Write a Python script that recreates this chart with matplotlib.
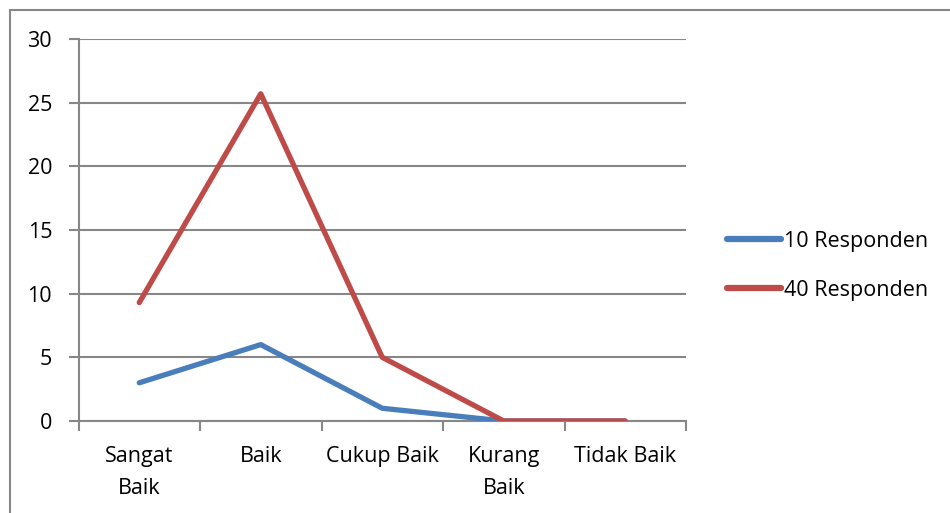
import numpy as np
import matplotlib
matplotlib.use('Agg')
import matplotlib.pyplot as plt
from matplotlib.patches import Rectangle

# Datos del grafico
kategori = ['Sangat\nBaik', 'Baik', 'Cukup Baik', 'Kurang\nBaik', 'Tidak Baik']
resp_10 = [3, 6, 1, 0, 0]
resp_40 = [9.3, 25.7, 5, 0, 0]
yticks = [0, 5, 10, 15, 20, 25, 30]

GRIS = '#878787'
AZUL = '#4A7EBB'
ROJO = '#BE4B48'
FS = 15.5

plt.rcParams['font.family'] = ['Open Sans', 'DejaVu Sans']

fig = plt.figure(figsize=(9.5, 5.13), dpi=100)
# marco exterior del grafico (recortado a la derecha y abajo)
fig.patches.append(Rectangle((10 / 950, -0.1), 1.2, (513 - 10) / 513 + 0.1,
                             transform=fig.transFigure, fill=False,
                             edgecolor=GRIS, linewidth=1.5))

ax = fig.add_axes([78.5 / 950, (513 - 421) / 513, (686 - 78.5) / 950, (421 - 39) / 513])
x = np.arange(len(kategori))
ax.plot(x, resp_10, color=AZUL, linewidth=3.8, solid_capstyle='round',
        label='10 Responden', zorder=3)
ax.plot(x, resp_40, color=ROJO, linewidth=3.8, solid_capstyle='round',
        label='40 Responden', zorder=3)

ax.set_xlim(-0.5, len(kategori) - 0.5)
ax.set_ylim(0, 30)
ax.set_yticks(yticks)
ax.yaxis.grid(True, color=GRIS, linewidth=1.5)
ax.set_axisbelow(True)

# ticks del eje x en los limites de categoria
ax.set_xticks(np.arange(len(kategori) + 1) - 0.5)
ax.set_xticklabels([])
ax.set_xticks(x, minor=True)
ax.set_xticklabels(kategori, minor=True, fontsize=FS, linespacing=1.7)
ax.tick_params(axis='x', which='minor', length=0, pad=18)
ax.tick_params(axis='x', which='major', length=7, width=1.5, color=GRIS)
ax.tick_params(axis='y', length=7, width=1.5, color=GRIS, labelsize=FS, pad=12)

for s in ['top', 'right']:
    ax.spines[s].set_visible(False)
for s in ['left', 'bottom']:
    ax.spines[s].set_color(GRIS)
    ax.spines[s].set_linewidth(1.5)

leg = fig.legend(loc='center left', bbox_to_anchor=(708 / 950, (513 - 266) / 513),
                 frameon=False, fontsize=FS, handlelength=2.5, handletextpad=0.15,
                 labelspacing=1.3)
for line in leg.get_lines():
    line.set_linewidth(4.5)

fig.savefig('out.png', dpi=100)
